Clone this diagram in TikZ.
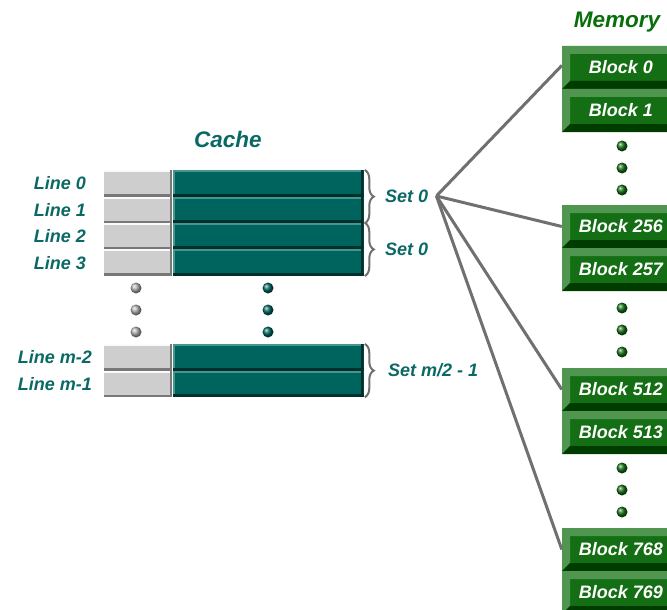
\documentclass[tikz,border=0pt]{standalone}
\usepackage{fontspec}
\setmainfont{Liberation Sans}
\usetikzlibrary{positioning, decorations.pathreplacing}

\definecolor{labelTeal}{RGB}{10,105,100}
\definecolor{dataTeal}{RGB}{0,100,94}
\definecolor{dataLight}{RGB}{70,150,142}
\definecolor{dataDark}{RGB}{0,48,45}
\definecolor{tagGray}{RGB}{206,206,206}
\definecolor{tagDark}{RGB}{120,120,120}
\definecolor{memGreen}{RGB}{20,110,20}
\definecolor{memLight}{RGB}{80,150,80}
\definecolor{memDark}{RGB}{0,60,0}
\definecolor{titleGreen}{RGB}{10,110,10}
\definecolor{linkGray}{RGB}{112,112,112}

\begin{document}
\begin{tikzpicture}
[
x = 1pt, y = -1pt,
title/.style = {font = \fontsize{22.5}{24}\selectfont\bfseries\itshape},
rowlabel/.style = {text = labelTeal, font = \fontsize{18}{20}\selectfont\bfseries\itshape, anchor = east, inner sep = 0pt},
setlabel/.style = {text = labelTeal, font = \fontsize{18}{20}\selectfont\bfseries\itshape, anchor = west, inner sep = 0pt},
tag/.style = {rectangle, fill = tagGray, minimum width = 68pt, minimum height = 26.4pt, inner sep = 0pt, anchor = north west,
    path picture = {
        \fill[white!90!tagGray] (path picture bounding box.north west) rectangle ([yshift = -2pt]path picture bounding box.north east);
        \fill[tagDark] (path picture bounding box.south west) rectangle ([yshift = 2.5pt]path picture bounding box.south east);
        \fill[tagDark] (path picture bounding box.south east) rectangle ([xshift = -2pt]path picture bounding box.north east);
    }},
data/.style = {rectangle, fill = dataTeal, minimum width = 191pt, minimum height = 26.4pt, inner sep = 0pt, anchor = north west,
    path picture = {
        \fill[dataLight] (path picture bounding box.north west) rectangle ([yshift = -2pt]path picture bounding box.north east);
        \fill[dataLight] (path picture bounding box.north west) rectangle ([xshift = 2.5pt]path picture bounding box.south west);
        \fill[dataDark] (path picture bounding box.south west) rectangle ([yshift = 3pt]path picture bounding box.south east);
        \fill[dataDark] (path picture bounding box.south east) rectangle ([xshift = -3pt]path picture bounding box.north east);
    }},
block/.style = {rectangle, fill = memGreen, text = white, font = \fontsize{18}{20}\selectfont\bfseries\itshape, minimum width = 118pt, minimum height = 43pt, inner sep = 0pt,
    path picture = {
        \fill[memLight] (path picture bounding box.north west) -- (path picture bounding box.north east)
            -- ([shift = {(-8pt,-8pt)}]path picture bounding box.north east) -- ([shift = {(8pt,-8pt)}]path picture bounding box.north west)
            -- ([shift = {(8pt,8pt)}]path picture bounding box.south west) -- (path picture bounding box.south west) -- cycle;
        \fill[memDark] (path picture bounding box.south west) -- (path picture bounding box.south east)
            -- ([shift = {(-8pt,8pt)}]path picture bounding box.south east) -- ([shift = {(8pt,8pt)}]path picture bounding box.south west) -- cycle;
    }},
cdot/.style = {circle, minimum size = 11pt, inner sep = 0pt, shade, ball color = #1},
setbrace/.style = {draw = linkGray, line width = 2pt, decorate, decoration = {brace, amplitude = 9pt}},
link/.style = {draw = linkGray, line width = 3pt}
]
    \useasboundingbox (0,0) rectangle (667,610);

    % cache
    \node[title, text = labelTeal] (cache) at (228, 139) {Cache};
    \node[tag] (tag0) at (104, 170) {};
    \node[tag] (tag1) at (104, 196.4) {};
    \node[tag] (tag2) at (104, 222.8) {};
    \node[tag] (tag3) at (104, 249.2) {};
    \node[tag] (tagm2) at (104, 344) {};
    \node[tag] (tagm1) at (104, 370.4) {};
    \foreach \r in {0, 1, 2, 3, m2, m1}
        \node[data] (data\r) at (tag\r.north east) {};

    \node[rowlabel] (line0) at ([xshift = -18pt]tag0.west) {Line 0};
    \node[rowlabel] (line1) at ([xshift = -18pt]tag1.west) {Line 1};
    \node[rowlabel] (line2) at ([xshift = -18pt]tag2.west) {Line 2};
    \node[rowlabel] (line3) at ([xshift = -18pt]tag3.west) {Line 3};
    \node[rowlabel] (linem2) at ([xshift = -12pt]tagm2.west) {Line m-2};
    \node[rowlabel] (linem1) at ([xshift = -12pt]tagm1.west) {Line m-1};

    \foreach \y [count = \i] in {288, 310, 332} {
        \node[cdot = tagGray!85!black] (gdot\i) at (136, \y) {};
        \node[cdot = dataTeal] (tdot\i) at (268, \y) {};
    }

    \draw[setbrace] ([xshift = 1pt]data0.north east) -- ([xshift = 1pt]data1.south east);
    \draw[setbrace] ([xshift = 1pt]data2.north east) -- ([xshift = 1pt]data3.south east);
    \draw[setbrace] ([xshift = 1pt]datam2.north east) -- ([xshift = 1pt]datam1.south east);
    \node[setlabel] (set0) at (385, 196) {Set 0};
    \node[setlabel] (set1) at (385, 249) {Set 0};
    \node[setlabel] (setlast) at (388, 370) {Set m/2 - 1};
    \coordinate (hub) at ([xshift = 8pt]set0.east);

    % memory
    \node[title, text = titleGreen] (memory) at (617, 22) {Memory};
    \node[block] (b0) at (621, 67.5) {Block 0};
    \node[block] (b1) at ([yshift = -43pt]b0) {Block 1};
    \node[block] (b256) at (621, 226.5) {Block 256};
    \node[block] (b257) at ([yshift = -43pt]b256) {Block 257};
    \node[block] (b512) at (621, 389.5) {Block 512};
    \node[block] (b513) at ([yshift = -43pt]b512) {Block 513};
    \node[block] (b768) at (621, 549.5) {Block 768};
    \node[block] (b769) at ([yshift = -43pt]b768) {Block 769};

    \foreach \y [count = \i] in {146, 168, 190, 308, 330, 352, 468, 490, 512}
        \node[cdot = memGreen] (mdot\i) at (622, \y) {};

    \draw[link] (hub) -- ([yshift = 2pt]b0.west);
    \draw[link] (hub) -- (b256.west);
    \draw[link] (hub) -- (b512.west);
    \draw[link] (hub) -- (b768.west);
\end{tikzpicture}
\end{document}
